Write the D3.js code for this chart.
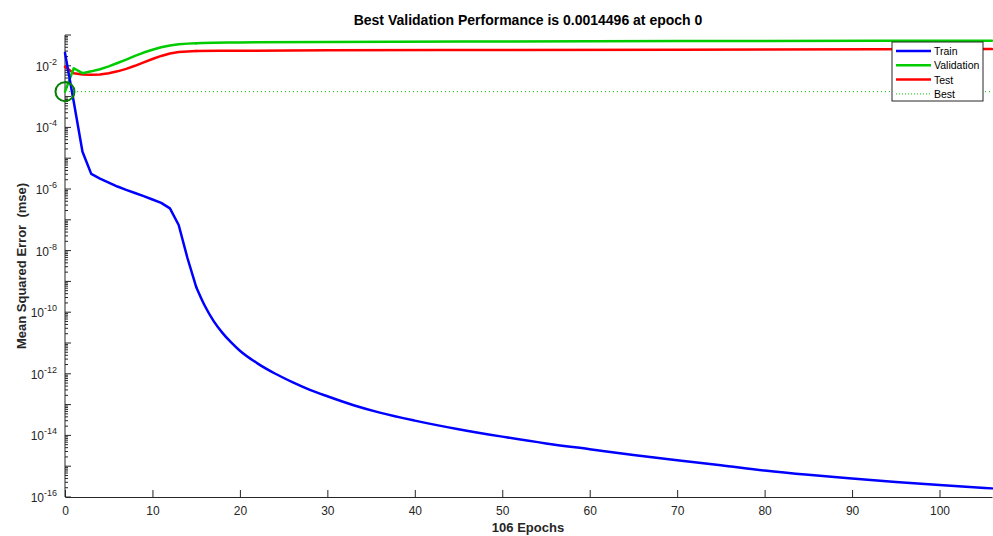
<!DOCTYPE html>
<html>
<head>
<meta charset="utf-8">
<script src="https://cdn.jsdelivr.net/npm/d3@7"></script>
<style>
  body { margin: 0; background: #fff; }
  svg { display: block; font-family: "Liberation Sans", Arial, sans-serif; }
</style>
</head>
<body>
<div id="chart"></div>
<script>
// values (log10 of mse)
var trainEpochs = [0,1,2,3,4,5,6,7,8,9,10,11,12,13,14,15,16,17,18,19,20,22,24,26,28,30,33,36,40,45,50,55,60,65,70,75,80,85,90,95,100,106]
var trainLog = [-1.58,-3.17,-4.79,-5.51,-5.66,-5.79,-5.92,-6.03,-6.13,-6.23,-6.34,-6.45,-6.63,-7.17,-8.24,-9.18,-9.80,-10.29,-10.67,-10.98,-11.25,-11.66,-11.99,-12.27,-12.52,-12.73,-13.02,-13.26,-13.52,-13.80,-14.04,-14.26,-14.45,-14.64,-14.81,-14.97,-15.14,-15.28,-15.40,-15.51,-15.61,-15.72]

var valEpochs = [0,1,2,3,4,5,6,7,8,9,10,11,12,13,14,15,17,20,30,50,80,106]
var valLog = [-2.839,-2.08,-2.24,-2.18,-2.11,-2.02,-1.91,-1.80,-1.68,-1.57,-1.48,-1.40,-1.34,-1.30,-1.28,-1.266,-1.253,-1.24,-1.224,-1.208,-1.195,-1.185]

var testEpochs = [0,1,2,3,4,5,6,7,8,9,10,11,12,13,14,15,20,30,50,80,106]
var testLog = [-2.03,-2.24,-2.28,-2.29,-2.28,-2.24,-2.18,-2.10,-2.00,-1.89,-1.78,-1.68,-1.60,-1.555,-1.535,-1.52,-1.51,-1.497,-1.487,-1.471,-1.458]

var bestPerf = 0.0014496
var bestEpoch = 0
var xTicks = [0,10,20,30,40,50,60,70,80,90,100]
var yTickExp = [-16,-14,-12,-10,-8,-6,-4,-2]

var width = 993, height = 536
var margin = {top: 35, right: 1, bottom: 39, left: 65}
var axisColor = '#262626'

var svg = d3.select('#chart').append('svg')
    .attr('width', width)
    .attr('height', height)

var xScale = d3.scaleLinear().domain([0, 106]).range([margin.left, width - margin.right])
var yScale = d3.scaleLog().domain([1e-16, 1e-1]).range([height - margin.bottom, margin.top])

// title
svg.append('text')
    .attr('x', (margin.left + width) / 2 - 1)
    .attr('y', 25)
    .attr('text-anchor', 'middle')
    .attr('font-size', '14px')
    .attr('font-weight', 'bold')
    .attr('fill', '#000')
    .text('Best Validation Performance is 0.0014496 at epoch 0')

// x axis, ticks inward
var xAxis = d3.axisBottom(xScale).tickValues(xTicks).tickSizeInner(-7).tickSizeOuter(0).tickPadding(9)
var gx = svg.append('g')
    .attr('transform', `translate(0, ${yScale(1e-16)})`)
    .call(xAxis)
gx.select('.domain').attr('stroke', axisColor)
gx.selectAll('.tick line').attr('stroke', axisColor)
gx.selectAll('.tick text').attr('fill', axisColor).attr('font-size', '12px')

// y axis line
svg.append('line')
    .attr('x1', margin.left).attr('x2', margin.left)
    .attr('y1', yScale(1e-16)).attr('y2', yScale(1e-1))
    .attr('stroke', axisColor)

// y ticks: major every decade, minor 2..9
var minors = []
for (var e = -16; e < -1; e++) {
    for (var m = 2; m <= 9; m++) minors.push(m * Math.pow(10, e))
}
svg.selectAll('.minor').data(minors).enter().append('line')
    .attr('x1', margin.left).attr('x2', margin.left + 3)
    .attr('y1', d => yScale(d)).attr('y2', d => yScale(d))
    .attr('stroke', axisColor)
svg.selectAll('.major').data(d3.range(-16, 0)).enter().append('line')
    .attr('x1', margin.left).attr('x2', margin.left + 6)
    .attr('y1', d => yScale(Math.pow(10, d))).attr('y2', d => yScale(Math.pow(10, d)))
    .attr('stroke', axisColor)

var yLabels = svg.selectAll('.ylab').data(yTickExp).enter().append('text')
    .attr('x', margin.left - 8)
    .attr('y', d => yScale(Math.pow(10, d)) + 5)
    .attr('text-anchor', 'end')
    .attr('font-size', '12px')
    .attr('fill', axisColor)
yLabels.append('tspan').text('10')
yLabels.append('tspan').attr('dy', -6).attr('font-size', '9px').text(d => d)

// axis labels
svg.append('text')
    .attr('x', (margin.left + width) / 2 - 1)
    .attr('y', 532)
    .attr('text-anchor', 'middle')
    .attr('font-size', '13px')
    .attr('font-weight', 'bold')
    .attr('fill', axisColor)
    .text('106 Epochs')

svg.append('text')
    .attr('transform', `translate(26, ${(yScale(1e-16) + yScale(1e-1)) / 2}) rotate(-90)`)
    .attr('text-anchor', 'middle')
    .attr('font-size', '13px')
    .attr('font-weight', 'bold')
    .attr('fill', axisColor)
    .attr('xml:space', 'preserve')
    .text('Mean Squared Error  (mse)')

// best line (dotted)
svg.append('line')
    .attr('x1', xScale(0)).attr('x2', xScale(106))
    .attr('y1', yScale(bestPerf)).attr('y2', yScale(bestPerf))
    .attr('stroke', '#00cc00')
    .attr('stroke-width', 1)
    .attr('stroke-dasharray', '1,3')

var sharpLine = d3.line()
    .x(d => xScale(d[0]))
    .y(d => yScale(Math.pow(10, d[1])))
var smoothLine = d3.line()
    .curve(d3.curveMonotoneX)
    .x(d => xScale(d[0]))
    .y(d => yScale(Math.pow(10, d[1])))

function drawSeries(pts, color) {
    // early epochs have sharp corners, the tail is a smooth curve
    var head = pts.filter(d => d[0] <= 15)
    var tail = pts.filter(d => d[0] >= 15)
    ;[[head, sharpLine], [tail, smoothLine]].forEach(function (p) {
        svg.append('path')
            .datum(p[0])
            .attr('d', p[1])
            .attr('fill', 'none')
            .attr('stroke', color)
            .attr('stroke-width', 2.5)
            .attr('stroke-linejoin', 'round')
            .attr('stroke-linecap', 'round')
    })
}

// test, validation, then train on top
drawSeries(d3.zip(testEpochs, testLog), '#ff0000')
drawSeries(d3.zip(valEpochs, valLog), '#00cc00')
drawSeries(d3.zip(trainEpochs, trainLog), '#0000ff')

// best point circle
svg.append('circle')
    .attr('cx', xScale(bestEpoch))
    .attr('cy', yScale(bestPerf))
    .attr('r', 9.5)
    .attr('fill', 'none')
    .attr('stroke', '#008000')
    .attr('stroke-width', 2)

// legend
var lg = svg.append('g').attr('transform', 'translate(892, 42)')
lg.append('rect')
    .attr('width', 91).attr('height', 59)
    .attr('fill', '#fff')
    .attr('stroke', axisColor)
    .attr('stroke-width', 1)
var legendItems = [
    {name: 'Train', color: '#0000ff', w: 2.5, dash: null},
    {name: 'Validation', color: '#00cc00', w: 2.5, dash: null},
    {name: 'Test', color: '#ff0000', w: 2.5, dash: null},
    {name: 'Best', color: '#00cc00', w: 1, dash: '1,2'}
]
legendItems.forEach(function (d, i) {
    var yy = 9 + i * 14.3
    lg.append('line')
        .attr('x1', 4).attr('x2', 39)
        .attr('y1', yy).attr('y2', yy)
        .attr('stroke', d.color)
        .attr('stroke-width', d.w)
        .attr('stroke-dasharray', d.dash)
    lg.append('text')
        .attr('x', 42).attr('y', yy + 4)
        .attr('font-size', '10.5px')
        .attr('fill', '#000')
        .text(d.name)
})
</script>
</body>
</html>
